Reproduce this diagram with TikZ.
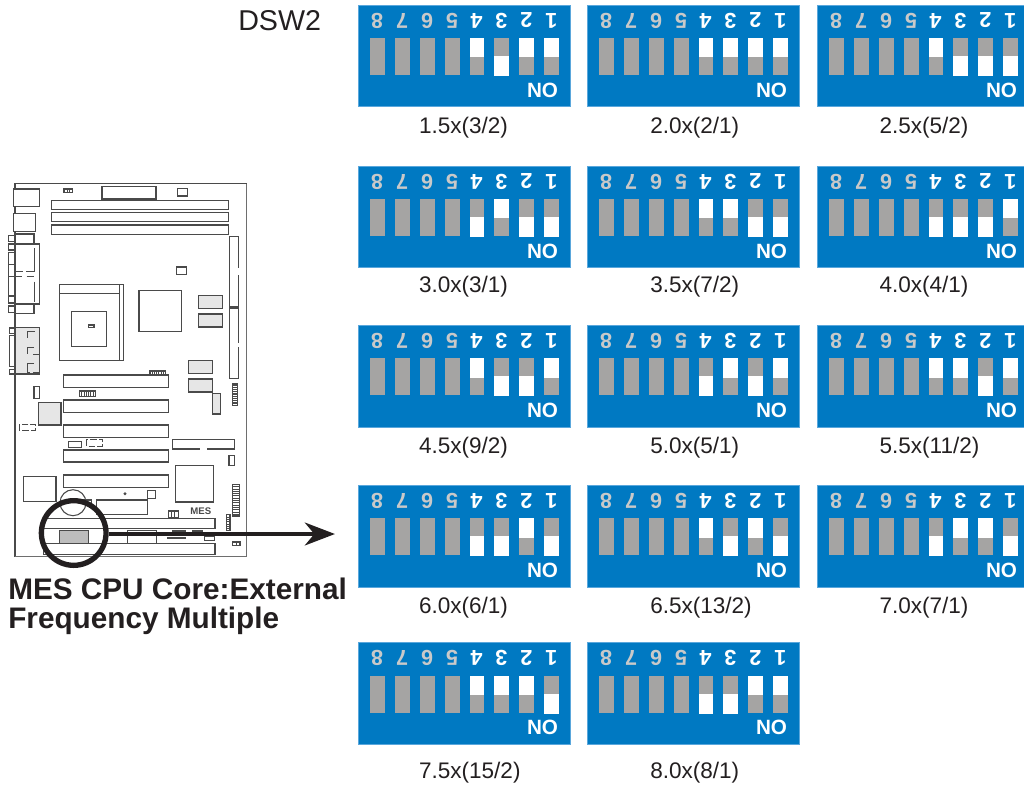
\documentclass[tikz,border=0pt]{standalone}
\usepackage{fontspec}
\setmainfont{Liberation Sans}
\usetikzlibrary{arrows.meta}
\definecolor{panelblue}{HTML}{0079C2}
\definecolor{paneledge}{HTML}{5AA7DC}
\definecolor{slotgray}{HTML}{A5A4A3}
\definecolor{digitgray}{HTML}{C9C9C9}
\definecolor{inkblack}{HTML}{231F20}
\definecolor{boardline}{HTML}{4A4A4A}
\definecolor{partgray}{HTML}{E6E6E6}
\definecolor{switchgray}{HTML}{BDBDBD}
\tikzset{
  panel/.style={fill=panelblue,draw=paneledge,line width=0.4pt},
  slot/.style={fill=slotgray,draw=none},
  lever/.style={fill=white,draw=none},
  digitA/.style={text=white,font=\fontsize{16.2}{17}\selectfont\bfseries,rotate=180,inner sep=0pt},
  digitB/.style={text=digitgray,font=\fontsize{16.2}{17}\selectfont\bfseries,rotate=180,inner sep=0pt},
  onlabel/.style={text=white,font=\fontsize{15.5}{16}\selectfont\bfseries,inner sep=0pt},
  ratio/.style={text=inkblack,font=\fontsize{16.9}{18}\selectfont,inner sep=0pt,anchor=base west},
  part/.style={draw=boardline,line width=0.8pt,fill=white},
  greypart/.style={part,fill=partgray},
  thin part/.style={draw=boardline,line width=0.6pt},
  blank/.style={draw=white,line width=1.2pt},
  caption/.style={text=inkblack,font=\fontsize{22.3}{28}\selectfont\bfseries,inner sep=0pt,anchor=base west},
}
% #1 name, #2 x, #3 y, #4..#7 switch 4,3,2,1 (t = white on top, b = white below), #8 label, #9 label base point
\newcommand{\dswpanel}[9]{%
  \begin{scope}[shift={(#2,#3)}]
    \fill[panel] (0,0) rectangle (212,101.5);
    \foreach \o/\d/\st in {12/8/digitB,37/7/digitB,62/6/digitB,87/5/digitB,111.7/4/digitA,136.3/3/digitA,161.3/2/digitA,186.3/1/digitA}{
      \fill[slot] (\o,33) rectangle ++(14.7,37);
      \node[\st] (#1-d\d) at (\o+7,15.5) {\d};
    }
    \dswlever{111.7}{#4}\dswlever{136.3}{#5}\dswlever{161.3}{#6}\dswlever{186.3}{#7}
    \node[onlabel] (#1-no) at (184.5,85) {NO};
  \end{scope}
  \node[ratio] (#1-label) at (#9) {#8};
}
\newcommand{\dswlever}[2]{%
  \if#2t\fill[lever] (#1,33) rectangle ++(14.7,19.2);\else\fill[lever] (#1,51) rectangle ++(14.7,20);\fi
}
\newcommand{\pr}[4]{\draw[part] (#1,#2) rectangle (#3,#4);}
\newcommand{\gpr}[4]{\draw[greypart] (#1,#2) rectangle (#3,#4);}
% striped connector: x1 y1 x2 y2 step
\newcommand{\strp}[5]{\draw[part] (#1,#2) rectangle (#3,#4);
  \foreach \xx in {#1,#5,...,#3}{\draw[thin part] (\xx,#2) -- (\xx,#4);}}
\newcommand{\strh}[5]{\draw[part] (#1,#2) rectangle (#3,#4);
  \foreach \yy in {#2,#5,...,#4}{\draw[thin part] (#1,\yy) -- (#3,\yy);}}
\begin{document}
\begin{tikzpicture}[x=0.75pt,y=-0.75pt]
\useasboundingbox (0,0) rectangle (1024,785);
\node[text=inkblack,font=\fontsize{21.5}{24}\selectfont,inner sep=0pt,anchor=base west] (dsw) at (238,30) {DSW2};
% panels
\dswpanel{a}{358}{5}{t}{b}{t}{t}{1.5x(3/2)}{418.8,133}
\dswpanel{b}{587}{5}{t}{t}{t}{t}{2.0x(2/1)}{650,133}
\dswpanel{c}{817}{5}{t}{b}{b}{b}{2.5x(5/2)}{879.3,133}
\dswpanel{d}{358}{166}{b}{t}{b}{b}{3.0x(3/1)}{418.8,292.5}
\dswpanel{e}{587}{166}{t}{t}{b}{b}{3.5x(7/2)}{650,292.5}
\dswpanel{f}{817}{166}{b}{b}{b}{t}{4.0x(4/1)}{879.3,292.5}
\dswpanel{g}{358}{325.3}{t}{b}{b}{t}{4.5x(9/2)}{418.8,453}
\dswpanel{h}{587}{325.3}{b}{t}{b}{t}{5.0x(5/1)}{650,453}
\dswpanel{i}{817}{325.3}{t}{t}{b}{t}{5.5x(11/2)}{879.3,453}
\dswpanel{j}{358}{485.3}{b}{b}{t}{b}{6.0x(6/1)}{418.8,613}
\dswpanel{k}{587}{485.3}{t}{b}{t}{b}{6.5x(13/2)}{650,613}
\dswpanel{l}{817}{485.3}{b}{t}{t}{b}{7.0x(7/1)}{879.3,613}
\dswpanel{m}{358}{642.5}{t}{t}{t}{b}{7.5x(15/2)}{418.8,778}
\dswpanel{n}{587}{642.5}{b}{b}{t}{t}{8.0x(8/1)}{650,778}
% motherboard
\draw[part,fill=white] (15,183.5) rectangle (246.5,556.5);
\draw[draw=boardline!80,line width=1.3pt] (246.5,183.5) -- (246.5,556.5) -- (15,556.5);
\pr{13.3}{189}{39.3}{206.7}
\pr{13.3}{213.3}{35.7}{231.7}
\strp{64}{189}{72.7}{192.3}{66.9}
\pr{102}{186.7}{156}{199}
\pr{177.7}{188.3}{187.3}{196}
\draw[boardline,line width=1.2pt] (178,195.5) -- (187,195.5);
\pr{51.3}{200.3}{228.7}{209.3}
\pr{51.3}{212.3}{228.7}{221.7}
\pr{51.3}{225}{228.7}{234.3}
\pr{229.3}{236.3}{238.7}{306.7}
\pr{229.3}{308}{238.7}{378.3}
\draw[blank] (238.7,268) -- (238.7,275);
\draw[blank] (238.7,343) -- (238.7,347);
% back panel
\pr{15}{234}{34}{244}
\pr{15}{244}{39.3}{304}
\pr{15}{304}{34}{313.3}
\pr{8.3}{235.7}{15}{241.7}
\pr{8.3}{244}{15}{250}
\pr{8.3}{252.3}{15}{264.3}
\pr{8.3}{264.3}{15}{276.7}
\pr{8.3}{276.7}{15}{296}
\pr{8.3}{296}{15}{303}
\pr{8.3}{306}{15}{312.7}
\draw[thin part] (34,248) -- (34,271.5) -- (26,271.5);
\draw[thin part] (15,271.5) -- (22.7,271.5);
\draw[thin part] (15,276) -- (22,276);
\draw[thin part] (26.7,276) -- (34,276);
\draw[thin part] (34,281.7) -- (34,301.7);
\gpr{15}{327.3}{39.3}{374}
\pr{9.3}{328}{15}{333.3}
\pr{9.3}{335.7}{15}{366.7}
\pr{9.3}{369.3}{15}{374}
\draw[thin part] (35,331) -- (27,331) -- (27,338);
\draw[thin part] (34,347) -- (27,347) -- (27,354);
\draw[thin part] (39,354) -- (33,354);
\draw[thin part] (34,363) -- (27,363) -- (27,372) -- (30,372);
\draw[thin part] (39,368) -- (39,372) -- (33,372);
% CPU socket
\pr{59.3}{284.3}{123.3}{360.7}
\draw[thin part] (59.3,293.3) -- (119.3,293.3);
\draw[thin part] (119.3,284.3) -- (119.3,360.7);
\pr{71.3}{311.7}{106.7}{346.7}
\pr{88.3}{325}{94}{327.7}
\pr{139}{290.3}{181.7}{331.7}
\pr{176.7}{266.3}{186.7}{274.3}
\draw[boardline,line width=1.2pt] (177,266.8) -- (186.5,266.8);
\gpr{198.3}{295.3}{222.7}{308.3}
\gpr{198.3}{314}{222.7}{327}
\gpr{188.3}{360.3}{212.3}{373.3}
\gpr{188.3}{379}{212.3}{392}
% PCI slots
\pr{63.3}{375}{168.3}{387.3}
\pr{63.3}{400}{168.3}{412.3}
\pr{63.3}{425}{168.3}{437.3}
\pr{63.3}{450}{168.3}{462}
\pr{63.3}{475}{168.3}{487.3}
\strp{150}{371}{165.7}{375}{152.2}
\strp{79.3}{391}{95.7}{396.3}{81.6}
\pr{33.3}{386.7}{39.3}{398.7}
\draw[boardline,line width=1.4pt] (33.8,387) -- (33.8,398.5);
\gpr{38.3}{402.3}{61}{425}
\draw[thin part,dash pattern=on 5pt off 1.5pt] (19.3,424.5) rectangle (35.7,430);
\pr{68.3}{441.7}{81.3}{447.7}
\draw[thin part,dash pattern=on 5pt off 1.5pt] (86.7,439.3) rectangle (102.3,446);
\gpr{212.7}{393.3}{220.7}{414}
\strh{232.7}{384}{237.3}{405.3}{385.8}
\pr{172.3}{439.3}{234.7}{449}
\draw[blank] (200,449) -- (206.5,449);
\pr{228.3}{455.7}{234.3}{465.3}
\draw[boardline,line width=1.2pt] (228.8,456) -- (228.8,465);
\pr{175.3}{465.7}{213.7}{502}
\pr{23.3}{476.3}{56}{501.3}
\draw[part,fill=none] (78,500) -- (91.7,500) -- (91.7,505);
\draw[part,fill=none] (73,502.7) circle[radius=13];
\pr{96.7}{500}{147.3}{514.3}
\fill[boardline] (125,493.7) circle[radius=1.6];
\pr{147.7}{490.7}{155.3}{498.3}
\strp{168.3}{511}{178.3}{517.3}{171.5}
\node[text=boardline,font=\fontsize{7.2}{8}\selectfont\bfseries,inner sep=0pt] (mes) at (200.8,511.5) {MES};
\strh{232.7}{484.3}{239.3}{516}{486.6}
\strh{226.7}{514.7}{230}{530.7}{517}
\pr{43.3}{518.3}{215}{528.7}
\pr{43.3}{543.3}{215}{554.7}
\draw[part,fill=switchgray] (59.3,530.3) rectangle (88.7,543.3);
\pr{127.3}{530.3}{156.7}{543.3}
\fill[boardline] (171.7,530) rectangle (186,533);
\fill[boardline] (191.7,530) rectangle (203.3,533);
\fill[boardline] (167,537) rectangle (186,539);
\pr{204.3}{536}{214.3}{540.7}
\strp{232.7}{542}{240}{545.3}{236.3}
% marker and arrow
\node[draw=inkblack,line width=4pt,circle,minimum size=48.5pt,inner sep=0pt,fill=none] (marker) at (73.7,533) {};
\coordinate (tip) at (335,534);
\draw[inkblack,line width=3.6pt,-{Stealth[length=22.5pt,width=17pt,inset=7pt]}] (marker.east) ++(0,1) -- (tip);
% caption
\node[caption] (capA) at (8,599.5) {MES CPU Core:External};
\node[caption] (capB) at (8,628) {Frequency Multiple};
\end{tikzpicture}
\end{document}
